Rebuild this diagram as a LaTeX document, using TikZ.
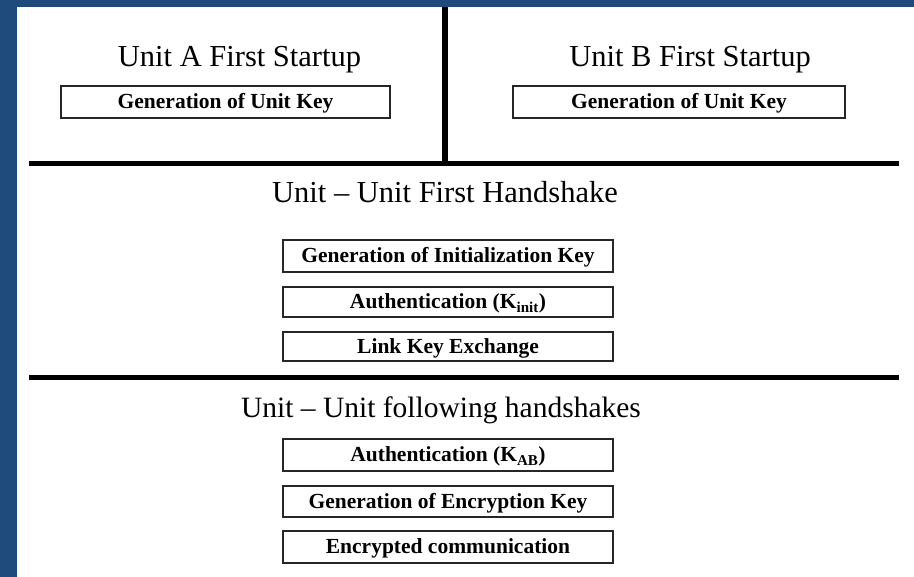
\documentclass[tikz,border=0pt]{standalone}
\usepackage{fontspec}
\setmainfont{Liberation Serif}
\definecolor{frameblue}{HTML}{1F4A7C}
\begin{document}
\begin{tikzpicture}[x=1pt,y=-1pt,
  heading/.style={anchor=base, inner sep=0pt, font=\fontsize{30.5}{36}\selectfont},
  stepbox/.style={draw=black!85, line width=1.6pt, inner sep=0pt,
    text height=14pt, text depth=0pt,
    font=\fontsize{21.5}{26}\selectfont\bfseries},
  divider/.style={line width=5.5pt, black}]
  % canvas and frame
  \useasboundingbox (0,0) rectangle (914,577);
  \fill[white] (0,0) rectangle (914,577);
  \fill[frameblue] (0,0) rectangle (17,577);
  \fill[frameblue] (0,0) rectangle (914,7);

  % dividers between the phases
  \coordinate (hl1) at (29,163.5);
  \coordinate (hr1) at (899,163.5);
  \coordinate (hl2) at (29,377.5);
  \coordinate (hr2) at (899,377.5);
  \coordinate (vtop) at (445,7);
  \coordinate (vbot) at (445,163.5);
  \draw[divider] (hl1) -- (hr1);
  \draw[divider] (hl2) -- (hr2);
  \draw[divider] (vtop) -- (vbot);

  % first startup of each unit
  \node[heading] (titleA) at (239.5,67) {Unit A First Startup};
  \node[heading] (titleB) at (690,67) {Unit B First Startup};
  \node[stepbox, minimum width=329pt, minimum height=32pt] (keyA) at (225.5,102) {Generation of Unit Key};
  \node[stepbox, minimum width=332pt, minimum height=32pt] (keyB) at (679,102) {Generation of Unit Key};

  % first handshake
  \node[heading] (titleM) at (445,203) {Unit -- Unit First Handshake};
  \node[stepbox, minimum width=330pt, minimum height=32pt] (initkey) at (448,256) {Generation of Initialization Key};
  \node[stepbox, minimum width=330pt, minimum height=30pt] (authinit) at (448,302) {Authentication (K\textsubscript{init})};
  \node[stepbox, minimum width=330pt, minimum height=29pt] (linkkey) at (448,346.5) {Link Key Exchange};

  % following handshakes
  \node[heading, font=\fontsize{29.5}{35}\selectfont] (titleF) at (441,418) {Unit -- Unit following handshakes};
  \node[stepbox, minimum width=330pt, minimum height=32pt] (authab) at (448,455) {Authentication (K\textsubscript{AB})};
  \node[stepbox, minimum width=330pt, minimum height=31pt] (enckey) at (448,501.5) {Generation of Encryption Key};
  \node[stepbox, minimum width=330pt, minimum height=32pt] (enccomm) at (448,547) {Encrypted communication};
\end{tikzpicture}
\end{document}
